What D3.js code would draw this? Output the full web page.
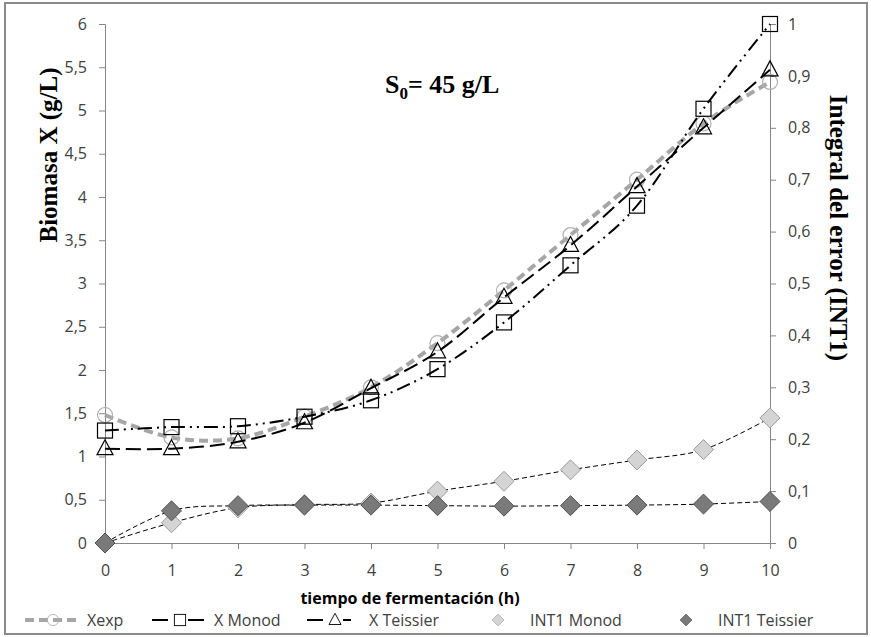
<!DOCTYPE html>
<html>
<head>
<meta charset="utf-8">
<script src="https://cdn.jsdelivr.net/npm/d3@7"></script>
<style>
  body { margin: 0; background: #fff; }
  svg text { font-family: "Liberation Sans", Arial, sans-serif; }
</style>
</head>
<body>
<div id="chart"></div>
<script>
var width = 871, height = 637;

// data
var hours = [0, 1, 2, 3, 4, 5, 6, 7, 8, 9, 10];
var xExp = [1.48, 1.22, 1.21, 1.46, 1.80, 2.31, 2.92, 3.56, 4.20, 4.85, 5.33];
var xMonod = [1.30, 1.34, 1.35, 1.46, 1.65, 2.01, 2.55, 3.21, 3.90, 5.02, 6.00];
var xTeissier = [1.09, 1.09, 1.17, 1.39, 1.79, 2.21, 2.84, 3.44, 4.12, 4.80, 5.47];
var int1Monod = [0, 0.039, 0.068, 0.074, 0.077, 0.100, 0.119, 0.141, 0.160, 0.180, 0.241];
var int1Teissier = [0, 0.062, 0.072, 0.073, 0.073, 0.072, 0.071, 0.072, 0.073, 0.075, 0.080];
var leftTicks = [0, 0.5, 1, 1.5, 2, 2.5, 3, 3.5, 4, 4.5, 5, 5.5, 6];
var rightTicks = [0, 0.1, 0.2, 0.3, 0.4, 0.5, 0.6, 0.7, 0.8, 0.9, 1];

var plot = {left: 105, right: 770, top: 24, bottom: 543};
var axisColor = "#868686";

var x = d3.scaleLinear().domain([0, 10]).range([plot.left, plot.right]);
var yL = d3.scaleLinear().domain([0, 6]).range([plot.bottom, plot.top]);
var yR = d3.scaleLinear().domain([0, 1]).range([plot.bottom, plot.top]);

var svg = d3.select("#chart").append("svg")
  .attr("width", width)
  .attr("height", height);

svg.append("rect")
  .attr("x", 5).attr("y", 3)
  .attr("width", 862).attr("height", 631)
  .attr("fill", "#fff")
  .attr("stroke", "#8a8a8a")
  .attr("stroke-width", 2);

var fmt = function(d) { return String(d).replace(".", ","); };

function styleAxis(g) {
  g.select(".domain").attr("stroke", axisColor);
  g.selectAll(".tick line").attr("stroke", axisColor);
  g.selectAll(".tick text")
    .attr("fill", "#404040")
    .style("font-size", "16px")
    .style("font-family", "'Open Sans', 'Liberation Sans', sans-serif");
}

svg.append("g")
  .attr("transform", "translate(" + plot.left + ",0)")
  .call(d3.axisLeft(yL).tickValues(leftTicks).tickFormat(fmt).tickSizeOuter(0).tickSize(6).tickPadding(12))
  .call(styleAxis);

svg.append("g")
  .attr("transform", "translate(" + plot.right + ",0)")
  .call(d3.axisRight(yR).tickValues(rightTicks).tickFormat(fmt).tickSizeOuter(0).tickSize(6).tickPadding(12))
  .call(styleAxis);

svg.append("g")
  .attr("transform", "translate(0," + plot.bottom + ")")
  .call(d3.axisBottom(x).tickValues(hours).tickSizeOuter(0).tickSize(6).tickPadding(16))
  .call(styleAxis);

// axis titles
svg.append("text")
  .attr("transform", "translate(57,155) rotate(-90)")
  .attr("text-anchor", "middle")
  .style("font-family", "'Liberation Serif', 'Times New Roman', serif")
  .style("font-weight", "bold")
  .style("font-size", "25px")
  .text("Biomasa X (g/L)");

svg.append("text")
  .attr("transform", "translate(830,228) rotate(90)")
  .attr("text-anchor", "middle")
  .style("font-family", "'Liberation Serif', 'Times New Roman', serif")
  .style("font-weight", "bold")
  .style("font-size", "25px")
  .text("Integral del error (INT1)");

svg.append("text")
  .attr("x", 410).attr("y", 604)
  .attr("text-anchor", "middle")
  .style("font-family", "'Open Sans', 'Liberation Sans', sans-serif")
  .style("font-weight", "bold")
  .style("font-size", "16px")
  .text("tiempo de fermentación (h)");

var title = svg.append("text")
  .attr("x", 385).attr("y", 93)
  .style("font-family", "'Liberation Serif', 'Times New Roman', serif")
  .style("font-weight", "bold")
  .style("font-size", "26px");
title.append("tspan").text("S");
title.append("tspan").attr("dy", 6).style("font-size", "17px").text("0");
title.append("tspan").attr("dy", -6).text("= 45 g/L");

// series
var series = [
  {name: "Xexp", values: xExp, y: yL, color: "#a6a6a6", width: 4, dash: "9,5", marker: "circle"},
  {name: "X Monod", values: xMonod, y: yL, color: "#000", width: 2, dash: "14,5,2,5,2,5", marker: "square"},
  {name: "X Teissier", values: xTeissier, y: yL, color: "#000", width: 2, dash: "15,6", marker: "triangle"},
  {name: "INT1 Monod", values: int1Monod, y: yR, color: "#000", width: 1, dash: "5,3", marker: "diamondLight"},
  {name: "INT1 Teissier", values: int1Teissier, y: yR, color: "#000", width: 1, dash: "5,3", marker: "diamondDark"}
];

function drawMarker(g, type, cx, cy) {
  if (type == "circle") {
    g.append("circle").attr("cx", cx).attr("cy", cy).attr("r", 7.5)
      .attr("fill", "none").attr("stroke", "#b0b0b0").attr("stroke-width", 1.2);
  } else if (type == "square") {
    g.append("rect").attr("x", cx - 7.5).attr("y", cy - 7.5).attr("width", 15).attr("height", 15)
      .attr("fill", "none").attr("stroke", "#000").attr("stroke-width", 1.2);
  } else if (type == "triangle") {
    g.append("path")
      .attr("d", "M" + cx + "," + (cy - 9) + "L" + (cx + 8) + "," + (cy + 6) + "L" + (cx - 8) + "," + (cy + 6) + "Z")
      .attr("fill", "none").attr("stroke", "#000").attr("stroke-width", 1.2);
  } else {
    var light = type == "diamondLight";
    g.append("path")
      .attr("d", "M" + cx + "," + (cy - 10) + "L" + (cx + 10) + "," + cy + "L" + cx + "," + (cy + 10) + "L" + (cx - 10) + "," + cy + "Z")
      .attr("fill", light ? "#d4d4d4" : "#7a7a7a")
      .attr("stroke", light ? "#9a9a9a" : "#505050").attr("stroke-width", 1);
  }
}

var order = [3, 4, 0, 1, 2];
order.forEach(function(i) {
  var s = series[i];
  var line = d3.line()
    .x(function(d, j) { return x(hours[j]); })
    .y(function(d) { return s.y(d); })
    .curve(d3.curveCardinal.tension(0));
  var g = svg.append("g");
  g.append("path")
    .datum(s.values)
    .attr("d", line)
    .attr("fill", "none")
    .attr("stroke", s.color)
    .attr("stroke-width", s.width)
    .attr("stroke-dasharray", s.dash);
  s.values.forEach(function(v, j) {
    drawMarker(g, s.marker, x(hours[j]), s.y(v));
  });
});

// legend
var legendX = [25, 152, 307, 482, 670];
var legend = svg.append("g").attr("transform", "translate(0,620)");
series.forEach(function(s, i) {
  var g = legend.append("g").attr("transform", "translate(" + legendX[i] + ",0)");
  if (s.marker.indexOf("diamond") < 0) {
    g.append("line").attr("x1", 0).attr("x2", 56).attr("y1", 0).attr("y2", 0)
      .attr("stroke", s.color).attr("stroke-width", s.width)
      .attr("stroke-dasharray", s.marker == "circle" ? "9,5" : (s.marker == "square" ? "16,20,16" : "16,20,8"));
    var mg = g.append("g").attr("transform", "translate(28,0) scale(0.75)");
    drawMarker(mg, s.marker, 0, 0);
  } else {
    var mg2 = g.append("g").attr("transform", "translate(16,0) scale(0.6)");
    drawMarker(mg2, s.marker, 0, 0);
  }
  g.append("text")
    .attr("x", s.marker.indexOf("diamond") < 0 ? 62 : 48)
    .attr("y", 6)
    .attr("fill", "#404040")
    .style("font-family", "'Open Sans', 'Liberation Sans', sans-serif")
    .style("font-size", "16px")
    .text(s.name);
});
</script>
</body>
</html>
